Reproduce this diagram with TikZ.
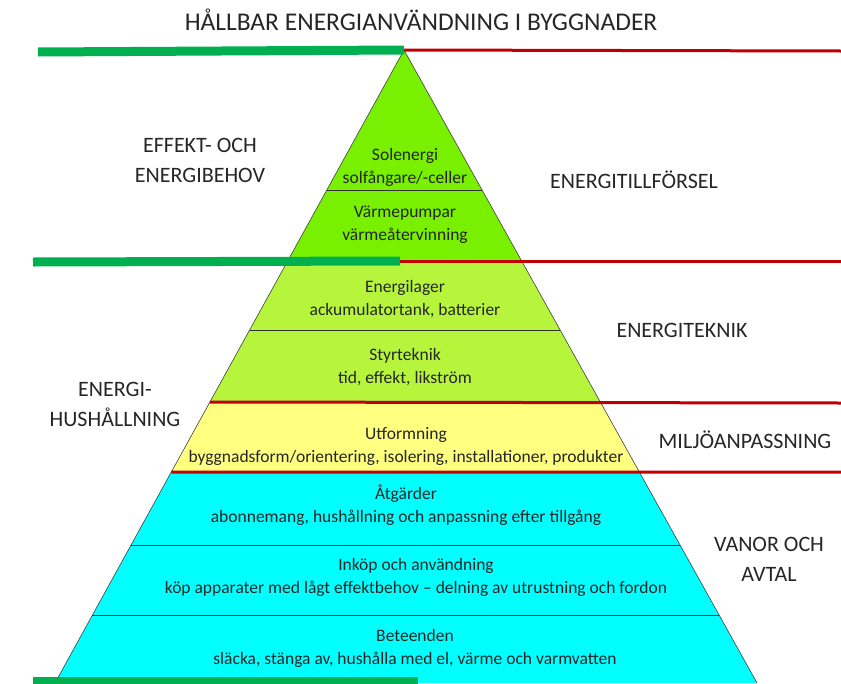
\documentclass[tikz,border=0pt]{standalone}
\usepackage{fontspec}
\setmainfont{Carlito}
\usepackage{tikz}
\usetikzlibrary{positioning,calc}

\definecolor{topgreen}{RGB}{120,240,0}
\definecolor{midgreen}{RGB}{182,245,60}
\definecolor{paleyellow}{RGB}{255,255,128}
\definecolor{aqua}{RGB}{0,255,255}
\definecolor{bargreen}{RGB}{0,176,80}
\definecolor{barred}{RGB}{192,0,0}

\begin{document}
\begin{tikzpicture}[x=1pt, y=-1pt,
    bandtext/.style={align=center, inner sep=0pt, text=black!85, font=\fontsize{17.5}{23}\selectfont},
    sidetext/.style={align=center, inner sep=0pt, text=black!85, font=\fontsize{22}{30}\selectfont},
    greenbar/.style={draw=bargreen, line width=9pt},
    redbar/.style={draw=barred, line width=3pt},
    sepline/.style={draw=black!80, line width=0.8pt}]
    \useasboundingbox (0,0) rectangle (841,683);

    % Pyramid corners
    \coordinate (apex) at (404,50);
    \coordinate (bl) at (55,683);
    \coordinate (br) at (757,683);

    % Draw the coloured bands
    \foreach \ya/\yb/\col [evaluate=\ya as \ta using (\ya-50)/633, evaluate=\yb as \tb using (\yb-50)/633] in {50/190/topgreen, 190/260/topgreen, 260/330/midgreen, 330/402/midgreen, 402/472/paleyellow, 472/545/aqua, 545/615/aqua, 615/683/aqua} {
      \fill[\col] ($(apex)!\ta!(bl)$) -- ($(apex)!\tb!(bl)$) -- ($(apex)!\tb!(br)$) -- ($(apex)!\ta!(br)$) -- cycle;
    }

    % Thin lines between bands
    \foreach \y [evaluate=\y as \t using (\y-50)/633] in {190, 330, 545, 615} {
      \draw[sepline] ($(apex)!\t!(bl)$) -- ($(apex)!\t!(br)$);
    }
    \draw[black!75, line width=0.6pt] (bl) -- (apex) -- (br);

    % Red and green marker lines
    \coordinate (redA) at (841,51);
    \coordinate (redB) at (841,261);
    \coordinate (redC) at (841,403);
    \coordinate (redD) at (841,472);
    \draw[redbar] (apex) -- (redA);
    \draw[redbar] (400,261) -- (redB);
    \draw[redbar] ($(apex)!{352/633}!(bl)$) -- (redC);
    \draw[redbar] ($(apex)!{422/633}!(bl)$) -- (redD);
    \draw[greenbar] (38,52) -- (apex);
    \draw[greenbar] (33,262) -- (400,261);
    \draw[greenbar] (33,681) -- (418,681);

    % Title
    \node[inner sep=0pt, text=black!85, font=\fontsize{25.5}{30}\selectfont] (title) at (421,20) {HÅLLBAR ENERGIANVÄNDNING I BYGGNADER};

    % Texts inside the pyramid
    \node[bandtext] (sol) at (405,167) {Solenergi\\solfångare/-celler};
    \node[bandtext] (varme) at (405,225) {Värmepumpar\\värmeåtervinning};
    \node[bandtext] (lager) at (405,299) {Energilager\\ackumulatortank, batterier};
    \node[bandtext] (styr) at (405,367) {Styrteknik\\tid, effekt, likström};
    \node[bandtext] (utform) at (406,446) {Utformning\\byggnadsform/orientering, isolering, installationer, produkter};
    \node[bandtext] (atgard) at (406,505) {Åtgärder\\abonnemang, hushållning och anpassning efter tillgång};
    \node[bandtext] (inkop) at (416,577) {Inköp och användning\\köp apparater med lågt effektbehov – delning av utrustning och fordon};
    \node[bandtext] (beteende) at (415,648) {Beteenden\\släcka, stänga av, hushålla med el, värme och varmvatten};

    % Side labels
    \node[sidetext] (behov) at (200,160) {EFFEKT- OCH\\ENERGIBEHOV};
    \node[sidetext] (hushall) at (115,404) {ENERGI-\\HUSHÅLLNING};
    \node[sidetext] (tillforsel) at (634,180) {ENERGITILLFÖRSEL};
    \node[sidetext] (teknik) at (682,330) {ENERGITEKNIK};
    \node[sidetext] (miljo) at (745,440) {MILJÖANPASSNING};
    \node[sidetext] (vanor) at (769,559) {VANOR OCH\\AVTAL};
\end{tikzpicture}
\end{document}
